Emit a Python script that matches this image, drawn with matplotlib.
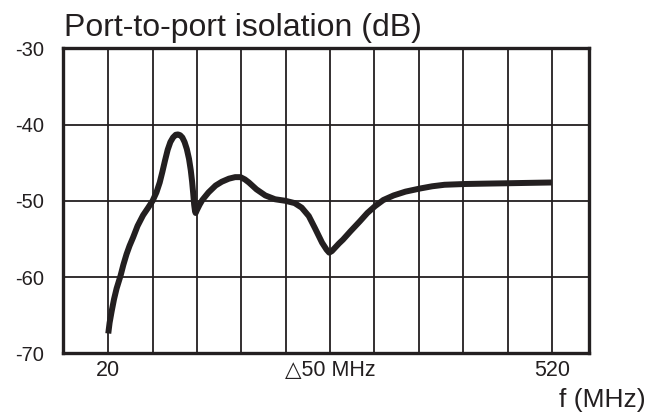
import matplotlib.pyplot as plt

plt.rcParams['font.family'] = ['Liberation Sans', 'DejaVu Sans']

# Frequenz (MHz) und Isolation (dB)
freq = [20, 21.5, 23.8, 26.5, 29.4, 33.9, 37, 40.6, 44, 48, 53, 59.2, 65, 70,
        74.3, 78, 81, 84, 87, 90, 93, 96, 98.5, 101, 103.5, 106, 108.5, 111,
        113, 114.5, 115.7, 116.8, 117.8, 118.5, 120, 123, 126, 133, 141, 148,
        156, 163, 169, 174, 178.5, 187, 197, 208, 219.5, 230, 238, 246, 253,
        261, 266, 269, 272, 276, 280, 284.5, 293, 303.5, 312, 320.7, 330,
        341.6, 355, 371, 385, 399, 422, 445, 471, 495, 520]
iso = [-67.4, -66.0, -64.5, -62.9, -61.5, -59.8, -58.4, -57.0, -55.9, -54.8,
       -53.3, -51.9, -50.9, -50.0, -48.9, -47.6, -46.2, -44.7, -43.3, -42.3,
       -41.7, -41.35, -41.3, -41.4, -41.7, -42.3, -43.2, -44.5, -46.0, -47.5,
       -49.0, -50.5, -51.4, -51.6, -51.2, -50.5, -49.9, -48.9, -48.0, -47.5,
       -47.1, -46.9, -46.9, -47.2, -47.6, -48.5, -49.3, -49.8, -50.0, -50.3,
       -50.9, -52.0, -53.6, -55.5, -56.4, -56.8, -56.6, -56.1, -55.6, -55.1,
       -54.0, -52.7, -51.6, -50.7, -49.9, -49.3, -48.8, -48.4, -48.1, -47.9,
       -47.8, -47.75, -47.7, -47.65, -47.6]

grid_x = [20, 70, 120, 170, 220, 270, 320, 370, 420, 470, 520]
grid_y = [-30, -40, -50, -60, -70]
xtick_pos = [20, 270, 520]
xtick_txt = ["20", "△50 MHz", "520"]

fig = plt.figure(figsize=(6.51, 4.16), dpi=100)
ax = fig.add_axes([0.0968, 0.1507, 0.8082, 0.7333])

for gx in grid_x:
    ax.axvline(gx, color='#231f20', lw=1.3, zorder=1)
for gy in grid_y:
    ax.axhline(gy, color='#231f20', lw=1.3, zorder=1)

ax.plot(freq, iso, color='#231f20', lw=4.3, solid_capstyle='butt',
        solid_joinstyle='round', zorder=3)

ax.set_xlim(-31, 562)
ax.set_ylim(-70, -30)
ax.set_xticks(xtick_pos)
ax.set_xticklabels(xtick_txt)
ax.set_yticks(grid_y)
ax.set_yticklabels([str(v) for v in grid_y])
ax.tick_params(length=0, colors='#231f20')
ax.tick_params(axis='y', pad=13.5, labelsize=14.5)
ax.tick_params(axis='x', pad=5, labelsize=15.5)
for s in ax.spines.values():
    s.set_linewidth(2.4)
    s.set_color('#231f20')

fig.text(0.098, 0.897, "Port-to-port isolation (dB)", fontsize=23,
         color='#231f20', ha='left', va='bottom')
fig.text(0.991, 0.01, "f (MHz)", fontsize=19, color='#231f20',
         ha='right', va='bottom')

fig.savefig("out.png", dpi=100)
